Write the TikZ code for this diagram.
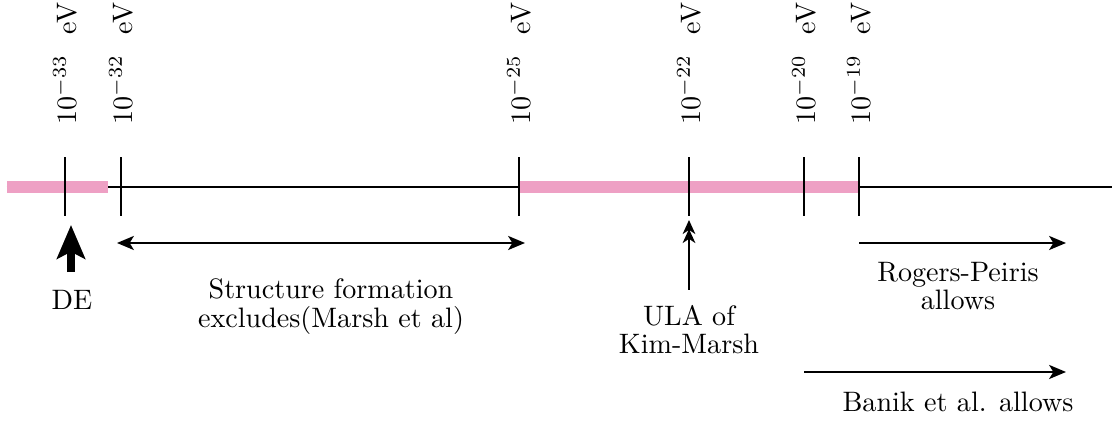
\documentclass[tikz,border=0pt]{standalone}
\usepackage{tikz}
\usetikzlibrary{arrows.meta}
\definecolor{axionpink}{RGB}{238,160,196}
\tikzset{
  masslabel/.style={rotate=90,anchor=west,inner sep=0pt},
  masstick/.style={line width=0.6pt},
  bound/.style={line width=0.7pt,-{Stealth[length=6pt,width=5pt,inset=1.5pt]}},
  remark/.style={align=center,inner sep=1pt}
}
\begin{document}
\begin{tikzpicture}
    \useasboundingbox (0,0) rectangle (13.9,5.2625);
    % axis and allowed windows
    \draw[line width=0.6pt] (0.0875,2.925)--(13.9,2.925);
    \fill[axionpink] (0.0875,2.85) rectangle (1.35,3.0);
    \fill[axionpink] (6.4875,2.85) rectangle (10.7375,3.0);
    % ticks with their masses
    \draw[masstick] (0.8125,2.5625)--(0.8125,3.3); \node[masslabel] (m33) at (0.8125,3.7) {$10^{-33}$\hspace{2.6mm}eV};
    \draw[masstick] (1.5125,2.5625)--(1.5125,3.3); \node[masslabel] (m32) at (1.5125,3.7) {$10^{-32}$\hspace{2.6mm}eV};
    \draw[masstick] (6.4875,2.5625)--(6.4875,3.3); \node[masslabel] (m25) at (6.4875,3.7) {$10^{-25}$\hspace{2.6mm}eV};
    \draw[masstick] (8.6125,2.5625)--(8.6125,3.3); \node[masslabel] (m22) at (8.6125,3.7) {$10^{-22}$\hspace{2.6mm}eV};
    \draw[masstick] (10.05,2.5625)--(10.05,3.3); \node[masslabel] (m20) at (10.05,3.7) {$10^{-20}$\hspace{2.6mm}eV};
    \draw[masstick] (10.7375,2.5625)--(10.7375,3.3); \node[masslabel] (m19) at (10.7375,3.7) {$10^{-19}$\hspace{2.6mm}eV};
    % DE
    \node[remark] (de) at (0.9,1.5125) {DE};
    \coordinate (deTail) at (0.8875,1.86);
    \coordinate (deTip) at (0.8875,2.45);
    \draw[line width=2.6pt,-{Stealth[length=12pt,width=10pt,inset=2.5pt]}] (deTail)--(deTip);
    % structure formation
    \coordinate (sfL) at (1.4625,2.225);
    \coordinate (sfR) at (6.5625,2.225);
    \draw[line width=0.7pt,{Stealth[length=6pt,width=5pt,inset=1.5pt]}-{Stealth[length=6pt,width=5pt,inset=1.5pt]}] (sfL)--(sfR);
    \node[remark] (sf) at (4.1375,1.43) {Structure formation\\[-2pt] excludes(Marsh et al)};
    % ULA
    \node[remark] (ula) at (8.6125,1.14) {ULA of\\[-2pt] Kim-Marsh};
    \coordinate (ulaTail) at (8.6125,1.6375);
    \coordinate (ulaTip) at (8.6125,2.5125);
    \draw[line width=0.7pt,-{Stealth[length=5pt,width=4.5pt,inset=1.5pt,sep=-1.8pt]Stealth[length=5pt,width=4.5pt,inset=1.5pt]}] (ulaTail)--(ulaTip);
    % allowed ranges
    \coordinate (rpL) at (10.7375,2.225);
    \coordinate (rpR) at (13.325,2.225);
    \draw[bound] (rpL)--(rpR);
    \node[remark] (rp) at (11.975,1.69) {Rogers-Peiris\\[-2pt] allows};
    \coordinate (bnL) at (10.05,0.6125);
    \coordinate (bnR) at (13.325,0.6125);
    \draw[bound] (bnL)--(bnR);
    \node[remark] (bn) at (11.975,0.24) {Banik et al. allows};
\end{tikzpicture}
\end{document}
